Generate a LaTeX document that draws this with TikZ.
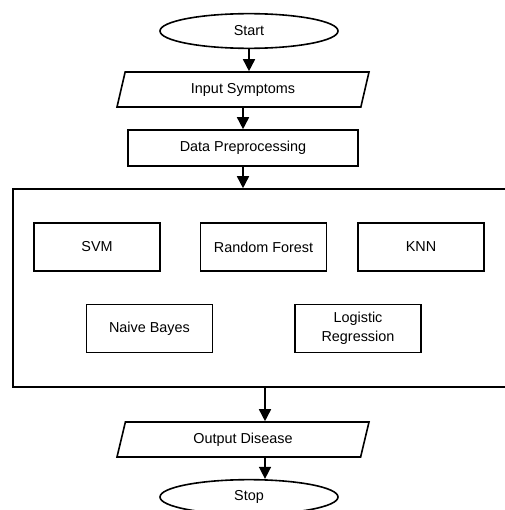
\documentclass[tikz,border=0pt]{standalone}
\usepackage{fontspec}
\setmainfont{Liberation Sans}
\usetikzlibrary{shapes.geometric}
\usetikzlibrary{arrows.meta}

\begin{document}
\begin{tikzpicture}[x=0.75pt, y=-0.75pt, line width=1.2pt,
    font=\fontsize{10.8}{14}\selectfont,
    terminal/.style={draw, ellipse, minimum width=133.5pt, minimum height=26pt, inner sep=0pt},
    io/.style={draw, trapezium, trapezium left angle=58, trapezium right angle=122,
        trapezium stretches body, minimum width=189pt, minimum height=26.25pt, inner sep=0pt},
    process/.style={draw, rectangle, minimum width=172.5pt, minimum height=27pt, inner sep=0pt},
    model/.style={draw, rectangle, minimum width=94.5pt, minimum height=36pt, inner sep=0pt, align=center},
    flow/.style={-{Triangle[width=9pt,length=9pt]}}]
    \useasboundingbox (0,0) rectangle (504,510);
    % Top of the chart
    \node[terminal] (start) at (249,31) {Start};
    \node[io] (input) at (243,89.5) {Input Symptoms};
    \node[process] (prep) at (243,148) {Data Preprocessing};
    % Models
    \node[draw, rectangle, minimum width=378pt, minimum height=148.5pt, inner sep=0pt] (models) at (265,288) {};
    \node[model] (svm) at (97,247) {SVM};
    \node[model] (rf) at (263.5,247) {Random Forest};
    \node[model] (knn) at (421,247) {KNN};
    \node[model] (nb) at (149.5,328.5) {Naive Bayes};
    \node[model] (lr) at (358,328.5) {Logistic\\Regression};
    % Bottom of the chart
    \node[io] (output) at (243,439.5) {Output Disease};
    \node[terminal] (stop) at (249,497) {Stop};
    % Arrows
    \draw[flow] (start.south) -- (start.south |- input.north);
    \draw[flow] (input.south) -- (input.south |- prep.north);
    \draw[flow] (prep.south) -- (prep.south |- models.north);
    \draw[flow] (models.south) -- (models.south |- output.north);
    \draw[flow] (models.south |- output.south) -- (models.south |- stop.north);
\end{tikzpicture}
\end{document}
